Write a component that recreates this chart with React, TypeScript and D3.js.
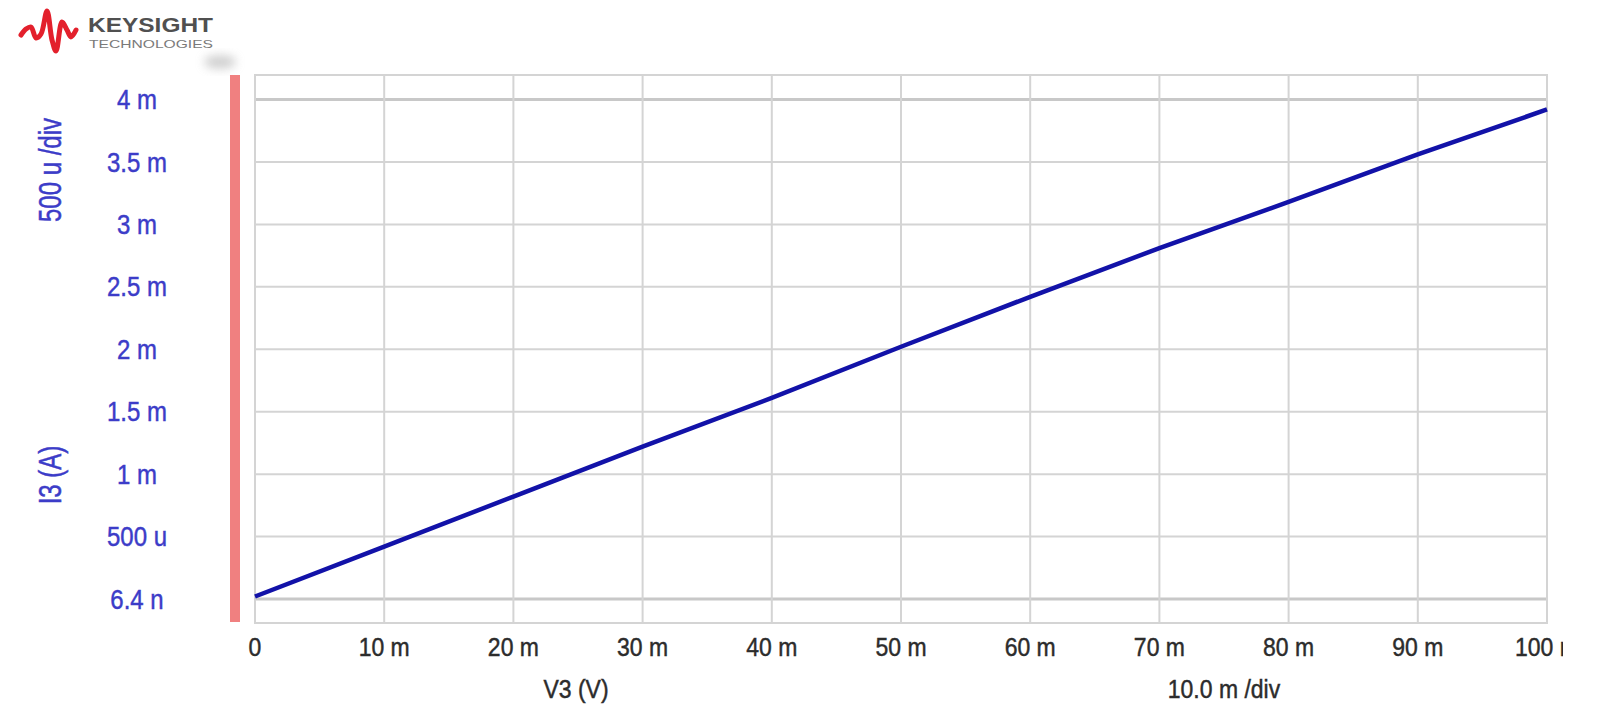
import React from "react";
import * as d3 from "d3";

// ---- data ----
const v3Sweep = [0, 0.01, 0.02, 0.03, 0.04, 0.05, 0.06, 0.07, 0.08, 0.09, 0.1];
const i3Current = [0.00002, 0.00042, 0.00082, 0.00122, 0.00161, 0.00202, 0.00242, 0.00281, 0.00318, 0.00356, 0.00392];

const xTickValues = [0, 0.01, 0.02, 0.03, 0.04, 0.05, 0.06, 0.07, 0.08, 0.09, 0.1];
const xTickLabels = ["0", "10 m", "20 m", "30 m", "40 m", "50 m", "60 m", "70 m", "80 m", "90 m", "100 m"];
const yTickValues = [0, 0.0005, 0.001, 0.0015, 0.002, 0.0025, 0.003, 0.0035, 0.004];
const yTickLabels = ["6.4 n", "500 u", "1 m", "1.5 m", "2 m", "2.5 m", "3 m", "3.5 m", "4 m"];

const xTitle = "V3 (V)";
const xDivLabel = "10.0 m /div";
const yTitle = "I3 (A)";
const yDivLabel = "500 u /div";

// logo wave (decoration)
const logoWave: [number, number][] = [
  [21, 35], [26, 29], [31, 27], [36, 38], [41, 34], [47, 11], [52, 40], [56, 51], [62, 22], [67, 30], [71, 37], [76, 30],
];

export default function App() {
  const W = 1600, H = 723;
  const plotLeft = 255, plotRight = 1547, plotTop = 75, plotBottom = 623;
  const x = d3.scaleLinear().domain([0, 0.1]).range([plotLeft, plotRight]);
  const y = d3.scaleLinear().domain([0, 0.004]).range([599, 99.5]);

  const linePath = d3
    .line<number>()
    .x((_, i) => x(v3Sweep[i]))
    .y((d) => y(d))(i3Current) as string;

  const wavePath = d3.line().curve(d3.curveCatmullRom)(logoWave) as string;

  const font = "'Liberation Sans', Arial, sans-serif";
  const blue = "#3c3cc8";
  const dark = "#2c2c2c";
  const grid = "#d4d4d4";

  return (
    <svg width={W} height={H} style={{ position: "absolute", left: 0, top: 0, background: "#fff" }}>
      <defs>
        <clipPath id="xlabClip">
          <rect x={0} y={620} width={1563} height={103} />
        </clipPath>
        <filter id="blur" x="-50%" y="-50%" width="200%" height="200%">
          <feGaussianBlur stdDeviation="5" />
        </filter>
      </defs>
      <rect x={0} y={0} width={W} height={H} fill="#fff" />

      {/* logo */}
      <path d={wavePath} fill="none" stroke="#e3202c" strokeWidth={5} strokeLinejoin="round" strokeLinecap="round" />
      <text x={88} y={32} fontFamily={font} fontWeight="bold" fontSize={21} fill="#505050" textLength={125} lengthAdjust="spacingAndGlyphs">
        KEYSIGHT
      </text>
      <text x={89} y={48} fontFamily={font} fontSize={11} fill="#7a7a7a" textLength={124} lengthAdjust="spacingAndGlyphs">
        TECHNOLOGIES
      </text>
      <ellipse cx={220} cy={62} rx={16} ry={7} fill="#bdbdbd" opacity={0.7} filter="url(#blur)" />

      {/* red bar */}
      <rect x={230} y={plotTop} width={10} height={plotBottom - plotTop - 1} fill="#f08080" />

      {/* grid */}
      {yTickValues.map((v, i) => (
        <line
          key={"gy" + i}
          x1={plotLeft}
          x2={plotRight}
          y1={y(v)}
          y2={y(v)}
          stroke={i === 0 || i === yTickValues.length - 1 ? "#c8c8c8" : grid}
          strokeWidth={i === 0 || i === yTickValues.length - 1 ? 3 : 2}
        />
      ))}
      {xTickValues.map((v, i) => (
        <line key={"gx" + i} x1={x(v)} x2={x(v)} y1={plotTop} y2={plotBottom} stroke={grid} strokeWidth={2} />
      ))}
      <rect x={plotLeft} y={plotTop} width={plotRight - plotLeft} height={plotBottom - plotTop} fill="none" stroke={grid} strokeWidth={2} />

      {/* data line */}
      <path d={linePath} fill="none" stroke="#1212a8" strokeWidth={4.5} strokeLinejoin="round" />

      {/* y tick labels */}
      {yTickValues.map((v, i) => (
        <text
          key={"yl" + i}
          transform={`translate(137, ${y(v)}) scale(1, 1.15)`}
          textAnchor="middle"
          dominantBaseline="central"
          fontFamily={font}
          fontSize={24}
          fill={blue}
          stroke={blue}
          strokeWidth={0.4}
        >
          {yTickLabels[i]}
        </text>
      ))}

      {/* y titles */}
      <text transform={`translate(50, 170) rotate(-90) scale(1, 1.3)`} textAnchor="middle" dominantBaseline="central" fontFamily={font} fontSize={24} fill={blue} stroke={blue} strokeWidth={0.4}>
        {yDivLabel}
      </text>
      <text transform={`translate(50, 475) rotate(-90) scale(1, 1.3)`} textAnchor="middle" dominantBaseline="central" fontFamily={font} fontSize={24} fill={blue} stroke={blue} strokeWidth={0.4}>
        {yTitle}
      </text>

      {/* x tick labels */}
      <g clipPath="url(#xlabClip)">
        {xTickValues.map((v, i) => (
          <text
            key={"xl" + i}
            transform={`translate(${x(v)}, 647) scale(1, 1.12)`}
            textAnchor="middle"
            dominantBaseline="central"
            fontFamily={font}
            fontSize={23}
            fill={dark}
            stroke={dark}
            strokeWidth={0.4}
          >
            {xTickLabels[i]}
          </text>
        ))}
      </g>

      {/* x titles */}
      <text transform={`translate(576, 689) scale(1, 1.12)`} textAnchor="middle" dominantBaseline="central" fontFamily={font} fontSize={23} fill={dark} stroke={dark} strokeWidth={0.4}>
        {xTitle}
      </text>
      <text transform={`translate(1224, 689) scale(1, 1.12)`} textAnchor="middle" dominantBaseline="central" fontFamily={font} fontSize={23} fill={dark} stroke={dark} strokeWidth={0.4}>
        {xDivLabel}
      </text>
    </svg>
  );
}
